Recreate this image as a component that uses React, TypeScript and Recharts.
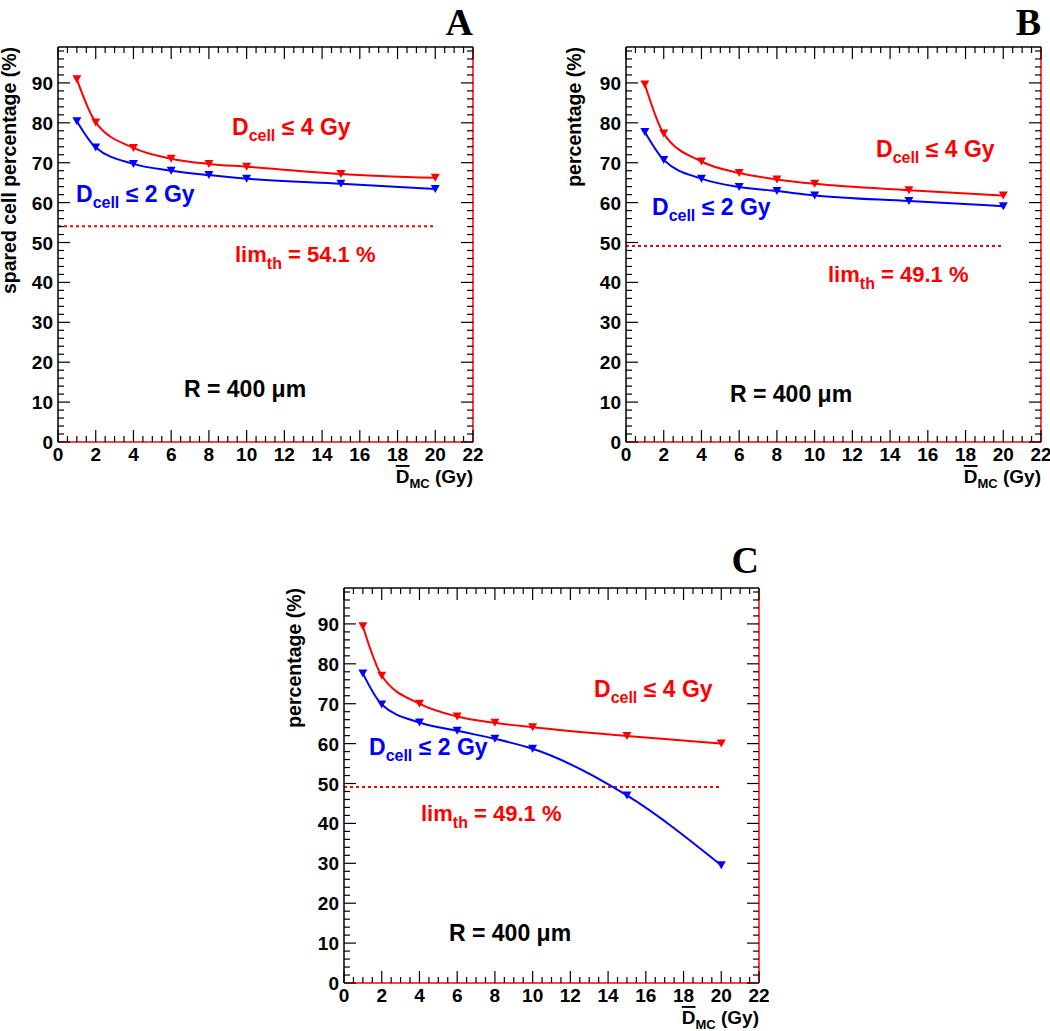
import React from 'react';
import { LineChart, Line, XAxis, YAxis, ReferenceLine } from 'recharts';

// mean dose D_MC (Gy) at which the spared fraction was computed
const doses = [1, 2, 4, 6, 8, 10, 15, 20];

// panel A: spared cell percentage
const aCell4 = [90.9, 80.1, 73.7, 71.0, 69.7, 69.0, 67.2, 66.2];
const aCell2 = [80.4, 73.8, 69.7, 68.0, 66.9, 66.0, 64.7, 63.4];
// panel B
const bCell4 = [89.6, 77.3, 70.3, 67.4, 65.8, 64.7, 63.1, 61.8];
const bCell2 = [77.7, 70.7, 66.0, 63.9, 62.9, 61.8, 60.4, 59.1];
// panel C
const cCell4 = [89.4, 77.0, 70.0, 66.8, 65.2, 64.1, 61.9, 60.0];
const cCell2 = [77.6, 69.8, 65.3, 63.2, 61.2, 58.7, 47.0, 29.5];

const limits = [54.1, 49.1, 49.1];
const limitSpan = [0, 20];

const xMajor = [0, 2, 4, 6, 8, 10, 12, 14, 16, 18, 20, 22];
const yMajor = [0, 10, 20, 30, 40, 50, 60, 70, 80, 90];
const xTicks = xMajor.flatMap((v) => (v < 22 ? [v, v + 0.5, v + 1, v + 1.5] : [v]));
const yTicks = yMajor.flatMap((v) => [v, v + 2, v + 4, v + 6, v + 8]);

const RED = '#ff0000';
const BLUE = '#0000ff';
const FONT = '"Liberation Sans", Arial, Helvetica, sans-serif';

const PW = 415;
const PH = 395;
const ML = 70;
const MT = 60;
const MR = 10;
const MB = 60;
// axis band sizes (taken out of the margins)
const LEFT_W = 50;
const BOTTOM_H = 30;

const makeTick = (side: 'bottom' | 'top' | 'left' | 'right') => (props: any) => {
  const { x, y, payload } = props;
  const v = payload.value;
  const horizontal = side === 'bottom' || side === 'top';
  const major = horizontal ? v % 2 === 0 : v % 10 === 0;
  const len = major ? 12 : 6;
  if (horizontal) {
    const dir = side === 'bottom' ? -1 : 1;
    return (
      <g>
        <line x1={x} x2={x} y1={y} y2={y + dir * len} stroke="#000" strokeWidth={1.2} />
        {side === 'bottom' && major && (
          <text x={x} y={y + 19} textAnchor="middle" fontSize={19} fontWeight="bold" fontFamily={FONT} fill="#000">
            {v}
          </text>
        )}
      </g>
    );
  }
  const dir = side === 'left' ? 1 : -1;
  return (
    <g>
      <line x1={x} x2={x + dir * len} y1={y} y2={y} stroke="#000" strokeWidth={1.2} />
      {side === 'left' && major && (
        <text x={x - 5} y={y} dy={7} textAnchor="end" fontSize={19} fontWeight="bold" fontFamily={FONT} fill="#000">
          {v}
        </text>
      )}
    </g>
  );
};

const Tri = (props: any) => {
  const { cx, cy, stroke } = props;
  if (cx == null || cy == null) return null;
  return <path d={`M${cx - 4.5},${cy - 4}L${cx + 4.5},${cy - 4}L${cx},${cy + 4}Z`} fill={stroke} />;
};

type Pos = [number, number];

type PanelProps = {
  left: number;
  top: number;
  letter: string;
  letterDy: number;
  yTitle: string;
  yTitleX: number;
  cell4: number[];
  cell2: number[];
  limit: number;
  red4: Pos;
  blue2: Pos;
  lim: Pos;
  rPos: Pos;
};

const Panel = (p: PanelProps) => {
  const data = doses.map((d, i) => ({ dose: d, c4: p.cell4[i], c2: p.cell2[i] }));
  const W = PW + ML + MR;
  const H = PH + MT + MB;
  const ox = ML;
  const oy = MT;
  return (
    <div style={{ position: 'absolute', left: p.left - ML, top: p.top - MT, width: W, height: H }}>
      <LineChart
        width={W}
        height={H}
        data={data}
        margin={{ top: MT - 1, right: MR - 1, bottom: MB - BOTTOM_H, left: ML - LEFT_W }}
      >
        <XAxis
          dataKey="dose"
          type="number"
          domain={[0, 22]}
          allowDataOverflow
          ticks={xTicks}
          interval={0}
          height={BOTTOM_H}
          tickSize={0}
          tickMargin={0}
          tick={makeTick('bottom')}
          axisLine={{ stroke: RED, strokeWidth: 1.5 }}
        />
        <XAxis
          xAxisId="top"
          orientation="top"
          dataKey="dose"
          type="number"
          domain={[0, 22]}
          allowDataOverflow
          ticks={xTicks}
          interval={0}
          height={1}
          tickSize={0}
          tickMargin={0}
          tick={makeTick('top')}
          axisLine={{ stroke: '#000', strokeWidth: 1.5 }}
        />
        <YAxis
          type="number"
          domain={[0, 99]}
          allowDataOverflow
          ticks={yTicks}
          interval={0}
          width={LEFT_W}
          tickSize={0}
          tickMargin={0}
          tick={makeTick('left')}
          axisLine={{ stroke: '#000', strokeWidth: 1.5 }}
        />
        <YAxis
          yAxisId="right"
          orientation="right"
          type="number"
          domain={[0, 99]}
          allowDataOverflow
          ticks={yTicks}
          interval={0}
          width={1}
          tickSize={0}
          tickMargin={0}
          tick={makeTick('right')}
          axisLine={{ stroke: RED, strokeWidth: 1.5 }}
        />
        <ReferenceLine
          segment={[
            { x: limitSpan[0], y: p.limit },
            { x: limitSpan[1], y: p.limit },
          ]}
          stroke={RED}
          strokeWidth={2}
          strokeDasharray="3 3"
        />
        <Line type="monotone" dataKey="c4" stroke={RED} strokeWidth={2} dot={<Tri />} isAnimationActive={false} />
        <Line type="monotone" dataKey="c2" stroke={BLUE} strokeWidth={2} dot={<Tri />} isAnimationActive={false} />
        {/* invisible copies bind the top and right frame axes to the same data */}
        <Line
          xAxisId="top"
          yAxisId="right"
          dataKey="c4"
          stroke="none"
          dot={false}
          activeDot={false}
          legendType="none"
          isAnimationActive={false}
        />
      </LineChart>
      <svg
        width={W}
        height={H}
        style={{ position: 'absolute', left: 0, top: 0, pointerEvents: 'none', overflow: 'visible' }}
        fontFamily={FONT}
        fontWeight="bold"
      >
        <text
          x={ox + PW}
          y={oy - p.letterDy}
          textAnchor="end"
          fontFamily='"Liberation Serif", "Times New Roman", serif'
          fontSize={38}
          fill="#000"
        >
          {p.letter}
        </text>
        <text
          x={ox + p.yTitleX}
          y={oy}
          transform={`rotate(-90 ${ox + p.yTitleX} ${oy})`}
          textAnchor="end"
          fontSize={19.5}
          fill="#000"
        >
          {p.yTitle}
        </text>
        <text x={ox + PW} y={oy + PH + 41} textAnchor="end" fontSize={19} fill="#000">
          <tspan style={{ textDecoration: 'overline' }}>D</tspan>
          <tspan fontSize={13} dy={5}>MC</tspan>
          <tspan dy={-5}> (Gy)</tspan>
        </text>
        <text x={ox + p.red4[0]} y={oy + p.red4[1]} fontSize={23} fill={RED}>
          D<tspan fontSize={16} dy={6}>cell</tspan>
          <tspan dy={-6}> ≤ 4 Gy</tspan>
        </text>
        <text x={ox + p.blue2[0]} y={oy + p.blue2[1]} fontSize={23} fill={BLUE}>
          D<tspan fontSize={16} dy={6}>cell</tspan>
          <tspan dy={-6}> ≤ 2 Gy</tspan>
        </text>
        <text x={ox + p.lim[0]} y={oy + p.lim[1]} fontSize={22} fill={RED}>
          lim<tspan fontSize={16} dy={7}>th</tspan>
          <tspan dy={-7}> = {p.limit.toFixed(1)} %</tspan>
        </text>
        <text x={ox + p.rPos[0]} y={oy + p.rPos[1]} fontSize={23} fill="#000">
          R = 400 μm
        </text>
      </svg>
    </div>
  );
};

export default function App() {
  return (
    <div style={{ position: 'absolute', left: 0, top: 0, width: 1050, height: 1031, background: '#fff' }}>
      <Panel
        left={58}
        top={47}
        letter="A"
        letterDy={12}
        yTitle="spared cell percentage (%)"
        yTitleX={-42}
        cell4={aCell4}
        cell2={aCell2}
        limit={limits[0]}
        red4={[174, 88]}
        blue2={[18, 155]}
        lim={[177, 215]}
        rPos={[126, 350]}
      />
      <Panel
        left={626}
        top={47}
        letter="B"
        letterDy={12}
        yTitle="percentage (%)"
        yTitleX={-45}
        cell4={bCell4}
        cell2={bCell2}
        limit={limits[1]}
        red4={[250, 110]}
        blue2={[26, 168]}
        lim={[202, 235]}
        rPos={[104, 355]}
      />
      <Panel
        left={344}
        top={588}
        letter="C"
        letterDy={15}
        yTitle="percentage (%)"
        yTitleX={-43}
        cell4={cCell4}
        cell2={cCell2}
        limit={limits[2]}
        red4={[250, 109]}
        blue2={[25, 167]}
        lim={[77, 233]}
        rPos={[105, 353]}
      />
    </div>
  );
}
